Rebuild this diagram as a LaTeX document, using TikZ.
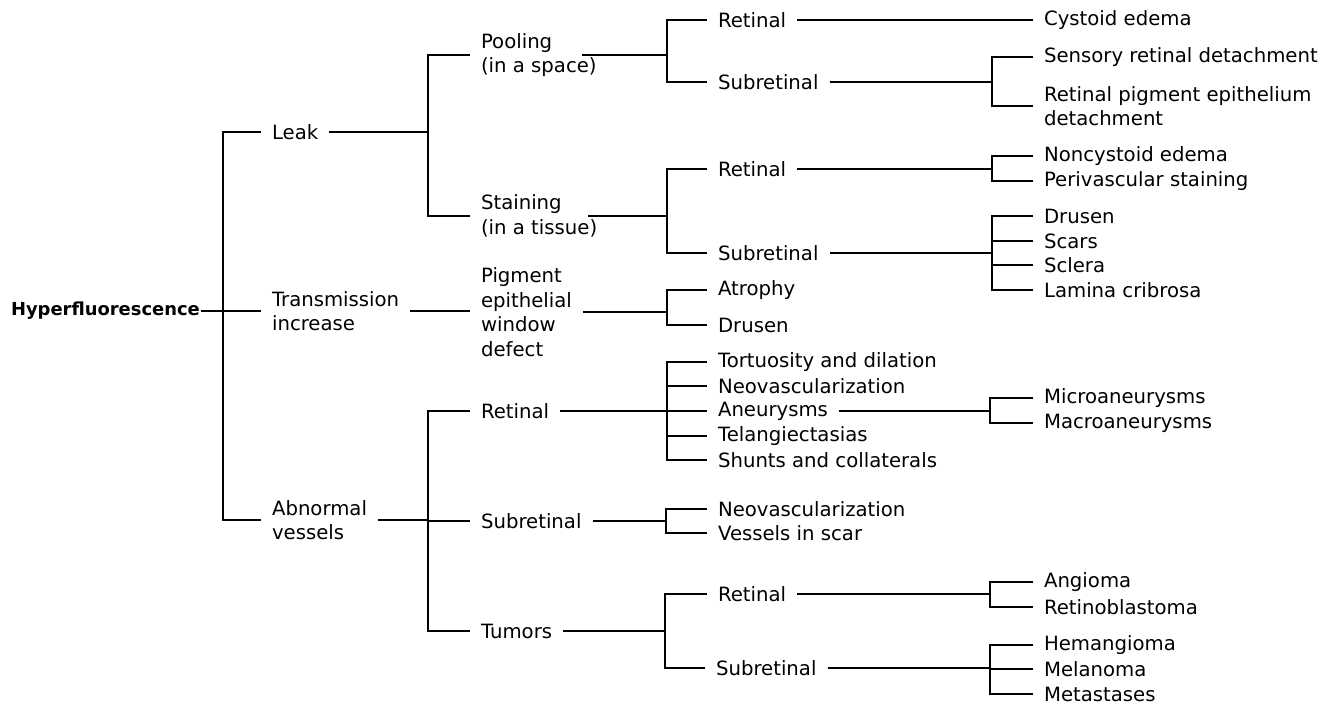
\documentclass[tikz,border=0pt]{standalone}
\usepackage{fontspec}
\setmainfont{DejaVu Sans}
\usepackage{tikz}

\tikzset{
  item/.style={anchor=west, inner xsep=0.2cm, inner ysep=1pt, align=left, font=\fontsize{11.2}{14}\selectfont},
  rootitem/.style={anchor=west, inner xsep=0pt, inner ysep=1pt, font=\fontsize{10.2}{12}\selectfont\bfseries},
}

\begin{document}
\begin{tikzpicture}[x=0.02cm, y=-0.02cm, line width=1.2pt]
\useasboundingbox (0,0) rectangle (1333,705);
\coordinate (j0) at (223,0) ;
\coordinate (j1) at (428,0) ;
\coordinate (j2) at (667,0) ;
\coordinate (j3) at (992,0) ;
\coordinate (j4) at (667,0) ;
\coordinate (j5) at (992,0) ;
\coordinate (j6) at (992,0) ;
\coordinate (j7) at (667,0) ;
\coordinate (j8) at (428,0) ;
\coordinate (j9) at (667,0) ;
\coordinate (j10) at (990,0) ;
\coordinate (j11) at (666,0) ;
\coordinate (j12) at (665,0) ;
\coordinate (j13) at (990,0) ;
\coordinate (j14) at (990,0) ;
\node[rootitem] (hyp) at (10,311) {Hyperfluorescence};
\node[item] (leak) at (261,132) {Leak};
\node[item] (trans) at (261,311) {Transmission\\increase};
\node[item] (abn) at (261,520) {Abnormal\\vessels};
\node[item] (pool) at (470,55) {Pooling\\(in a space)};
\node[item] (stain) at (470,216) {Staining\\(in a tissue)};
\node[item] (pig) at (470,312) {Pigment\\epithelial\\window\\defect};
\node[item] (vret) at (470,411) {Retinal};
\node[item] (vsub) at (470,521) {Subretinal};
\node[item] (tum) at (470,631) {Tumors};
\node[item] (pret) at (707,20) {Retinal};
\node[item] (psub) at (707,82) {Subretinal};
\node[item] (sret) at (707,169) {Retinal};
\node[item] (ssub) at (707,253) {Subretinal};
\node[item] (atro) at (707,290) {Atrophy};
\node[item] (drus) at (707,325) {Drusen};
\node[item] (tort) at (707,362) {Tortuosity and dilation};
\node[item] (neo) at (707,386) {Neovascularization};
\node[item] (aneu) at (707,411) {Aneurysms};
\node[item] (tel) at (707,436) {Telangiectasias};
\node[item] (shunt) at (707,460) {Shunts and collaterals};
\node[item] (sneo) at (707,509) {Neovascularization};
\node[item] (scar) at (707,533) {Vessels in scar};
\node[item] (tret) at (707,594) {Retinal};
\node[item] (tsub) at (705,668) {Subretinal};
\node[item] (cyst) at (1033,20) {Cystoid edema};
\node[item] (sens) at (1033,57) {Sensory retinal detachment};
\node[item] (rpe) at (1033,106) {Retinal pigment epithelium\\detachment};
\node[item] (noncy) at (1033,156) {Noncystoid edema};
\node[item] (peri) at (1033,181) {Perivascular staining};
\node[item] (sdru) at (1033,216) {Drusen};
\node[item] (scars) at (1033,241) {Scars};
\node[item] (sclera) at (1033,265) {Sclera};
\node[item] (lamina) at (1033,290) {Lamina cribrosa};
\node[item] (micro) at (1033,398) {Microaneurysms};
\node[item] (macro) at (1033,423) {Macroaneurysms};
\node[item] (angi) at (1033,582) {Angioma};
\node[item] (retino) at (1033,607) {Retinoblastoma};
\node[item] (hema) at (1033,645) {Hemangioma};
\node[item] (mela) at (1033,669) {Melanoma};
\node[item] (meta) at (1033,694) {Metastases};
\draw[black] (hyp.east) -- (hyp.east -| trans.west);
\draw[black] (leak.west) -- (j0 |- leak) -- (j0 |- abn) -- (abn.west);
\draw[black] (leak.east) -- (j1 |- leak);
\draw[black] (pool.west) -- (j1 |- pool) -- (j1 |- stain) -- (stain.west);
\draw[black] ([xshift=-0.52cm]pool.east) -- (j2 |- pool);
\draw[black] (pret.west) -- (j2 |- pret) -- (j2 |- psub) -- (psub.west);
\draw[black] (pret.east) -- (cyst.west);
\draw[black] (psub.east) -- (j3 |- psub);
\draw[black] (sens.west) -- (j3 |- sens) -- (j3 |- rpe) -- (rpe.west);
\draw[black] ([xshift=-0.4cm]stain.east) -- (j4 |- stain);
\draw[black] (sret.west) -- (j4 |- sret) -- (j4 |- ssub) -- (ssub.west);
\draw[black] (sret.east) -- (j5 |- sret);
\draw[black] (noncy.west) -- (j5 |- noncy) -- (j5 |- peri) -- (peri.west);
\draw[black] (ssub.east) -- (j6 |- ssub);
\draw[black] (sdru.west) -- (j6 |- sdru) -- (j6 |- lamina) -- (lamina.west);
\draw[black] (j6 |- scars) -- (scars.west);
\draw[black] (j6 |- sclera) -- (sclera.west);
\draw[black] (trans.east) -- (trans.east -| pig.west);
\draw[black] (pig.east) -- (j7 |- pig);
\draw[black] (atro.west) -- (j7 |- atro) -- (j7 |- drus) -- (drus.west);
\draw[black] (abn.east) -- (j8 |- abn);
\draw[black] (vret.west) -- (j8 |- vret) -- (j8 |- tum) -- (tum.west);
\draw[black] (j8 |- vsub) -- (vsub.west);
\draw[black] (vret.east) -- (j9 |- vret);
\draw[black] (tort.west) -- (j9 |- tort) -- (j9 |- shunt) -- (shunt.west);
\draw[black] (j9 |- neo) -- (neo.west);
\draw[black] (j9 |- aneu) -- (aneu.west);
\draw[black] (j9 |- tel) -- (tel.west);
\draw[black] (aneu.east) -- (j10 |- aneu);
\draw[black] (micro.west) -- (j10 |- micro) -- (j10 |- macro) -- (macro.west);
\draw[black] (vsub.east) -- (j11 |- vsub);
\draw[black] (sneo.west) -- (j11 |- sneo) -- (j11 |- scar) -- (scar.west);
\draw[black] (tum.east) -- (j12 |- tum);
\draw[black] (tret.west) -- (j12 |- tret) -- (j12 |- tsub) -- (tsub.west);
\draw[black] (tret.east) -- (j13 |- tret);
\draw[black] (angi.west) -- (j13 |- angi) -- (j13 |- retino) -- (retino.west);
\draw[black] (tsub.east) -- (j14 |- tsub);
\draw[black] (hema.west) -- (j14 |- hema) -- (j14 |- meta) -- (meta.west);
\draw[black] (j14 |- mela) -- (mela.west);
\end{tikzpicture}
\end{document}
